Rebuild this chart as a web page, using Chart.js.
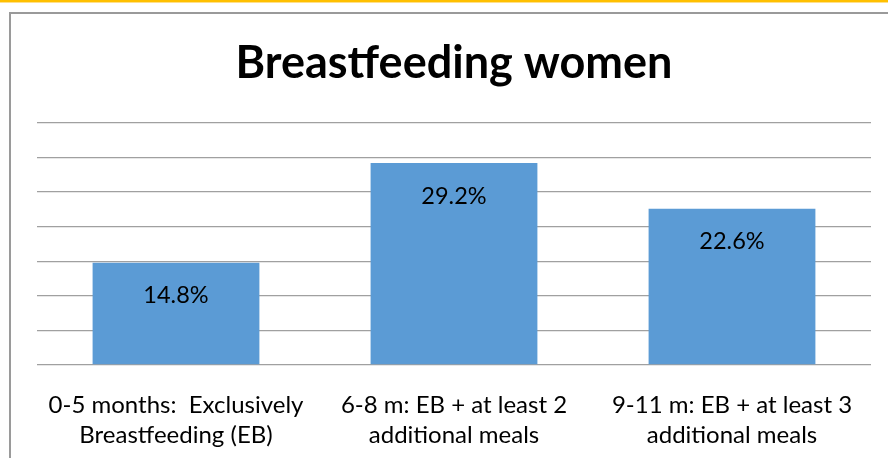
<!DOCTYPE html>
<html>
<head>
<meta charset="utf-8">
<script src="https://cdn.jsdelivr.net/npm/chart.js@4"></script>
<style>
  html, body { margin: 0; padding: 0; background: #fff; }
  #wrap { position: relative; width: 888px; height: 458px; overflow: hidden; }
  #topline { position: absolute; left: 0; top: 0; width: 888px; height: 2px; background: #ffc000; border-bottom: 1px solid #ffe08a; }
  #frame { position: absolute; left: 9px; top: 12px; width: 900px; height: 480px; border: 2px solid #9a9a9a; }
  #chart { position: absolute; left: 0; top: 0; }
</style>
</head>
<body>
<div id="wrap">
  <div id="topline"></div>
  <div id="frame"></div>
  <canvas id="chart" width="888" height="458"></canvas>
</div>
<script>
// chart data
const categories = [
  ['0-5 months:  Exclusively', 'Breastfeeding (EB)'],
  ['6-8 m: EB + at least 2', 'additional meals'],
  ['9-11 m: EB + at least 3', 'additional meals']
];
const values = [14.8, 29.2, 22.6];
const yTicks = [0, 5, 10, 15, 20, 25, 30, 35];

// Draw value labels inside the bars, just under the top
const barLabels = {
  id: 'barLabels',
  afterDatasetsDraw(chart) {
    const ctx = chart.ctx;
    const meta = chart.getDatasetMeta(0);
    ctx.save();
    ctx.font = '23.5px Lato';
    ctx.fillStyle = '#000';
    ctx.textAlign = 'center';
    ctx.textBaseline = 'middle';
    meta.data.forEach((bar, i) => {
      ctx.fillText(values[i].toFixed(1) + '%', bar.x, bar.y + 33);
    });
    ctx.restore();
  }
};

new Chart(document.getElementById('chart'), {
  type: 'bar',
  data: {
    labels: categories,
    datasets: [{
      data: values,
      backgroundColor: '#5b9bd5',
      borderWidth: 0,
      categoryPercentage: 1,
      barPercentage: 0.6
    }]
  },
  options: {
    responsive: false,
    animation: false,
    layout: { padding: { left: 37, right: 17, top: 0, bottom: 0 } },
    plugins: {
      legend: { display: false },
      tooltip: { enabled: false },
      title: {
        display: true,
        text: 'Breastfeeding women',
        color: '#000',
        font: { family: 'Lato', size: 45, weight: 'bold', lineHeight: 1.2 },
        padding: { top: 36, bottom: 33 }
      }
    },
    scales: {
      x: {
        grid: { display: false, drawTicks: false },
        border: { display: false },
        ticks: {
          color: '#000',
          padding: 25,
          maxRotation: 0,
          autoSkip: false,
          font: { family: 'Lato', size: 24, lineHeight: 1.25 }
        },
        afterFit(scale) { scale.height = 93; }
      },
      y: {
        min: 0,
        max: 35,
        afterBuildTicks(scale) { scale.ticks = yTicks.map(v => ({ value: v })); },
        ticks: { display: false },
        grid: { color: '#a0a0a0', lineWidth: 1.3, drawTicks: false },
        border: { display: false },
        afterFit(scale) { scale.width = 0; }
      }
    }
  },
  plugins: [barLabels]
});
</script>
</body>
</html>
